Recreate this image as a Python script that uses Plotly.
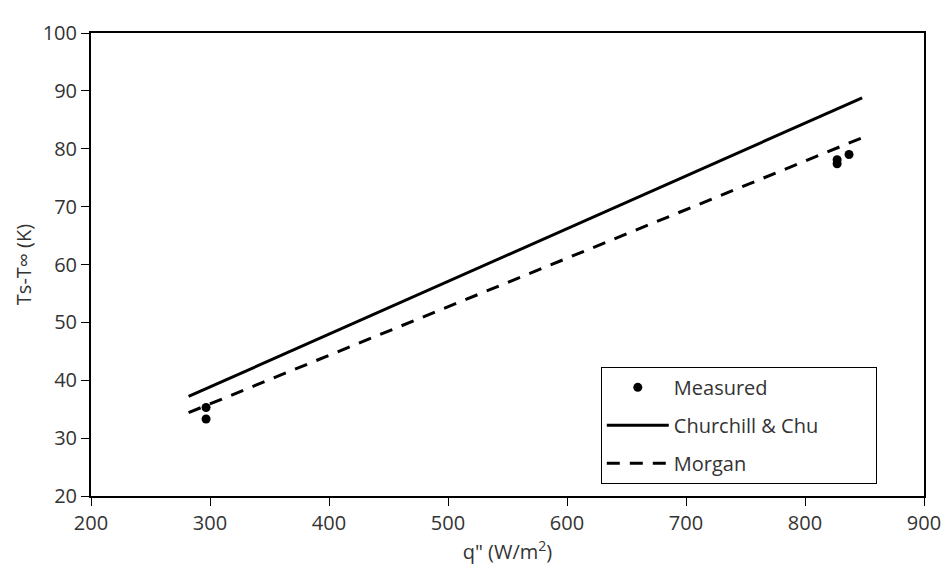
import plotly.graph_objects as go

# Data
meas_q = [296.7, 296.7, 827, 827, 837]
meas_dT = [35.3, 33.3, 78.1, 77.4, 79.0]

line_q = [282, 848]
churchill_dT = [37.2, 88.8]
morgan_dT = [34.4, 81.9]

x_ticks = [200, 300, 400, 500, 600, 700, 800, 900]
y_ticks = [20, 30, 40, 50, 60, 70, 80, 90, 100]

FONT = "Open Sans"
TXT = "#333333"

fig = go.Figure()
fig.add_trace(go.Scatter(
    x=meas_q, y=meas_dT, mode="markers", name="Measured",
    marker=dict(color="black", size=9, symbol="circle"),
    legendgroup="a"))
fig.add_trace(go.Scatter(
    x=line_q, y=churchill_dT, mode="lines",
    name="Churchill & Chu" + "\u00a0" * 10,
    line=dict(color="black", width=3), legendgroup="b"))
fig.add_trace(go.Scatter(
    x=line_q, y=morgan_dT, mode="lines", name="Morgan",
    line=dict(color="black", width=3, dash="13px,10px"), legendgroup="c"))

axis_common = dict(
    showgrid=False, zeroline=False, showline=True, linecolor="black",
    linewidth=2, mirror=True, ticks="outside", ticklen=8, tickwidth=1,
    tickcolor="black", tickfont=dict(family=FONT, size=20, color=TXT),
    ticklabeloverflow="allow",
)

fig.update_xaxes(range=[200, 900], tickvals=x_ticks,
                 title=dict(text='q" (W/m<sup>2</sup>)',
                            font=dict(family=FONT, size=20, color=TXT),
                            standoff=8),
                 **axis_common)
fig.update_yaxes(range=[20, 100], tickvals=y_ticks,
                 title=dict(text="Ts-T\u221e (K)",
                            font=dict(family=FONT, size=20, color=TXT),
                            standoff=6),
                 **axis_common)

# page body has an 8px default margin, so the figure is offset by 8px
fig.update_layout(
    width=944, height=569,
    margin=dict(l=83, r=23, t=11, b=81),
    plot_bgcolor="white", paper_bgcolor="white",
    font=dict(family=FONT, size=20, color=TXT),
    legend=dict(
        x=0.612, y=0.279, xanchor="left", yanchor="top",
        bordercolor="black", borderwidth=1, bgcolor="white",
        font=dict(family=FONT, size=20, color=TXT),
        tracegroupgap=9, itemwidth=62,
    ),
)

fig.write_html("out.html")
